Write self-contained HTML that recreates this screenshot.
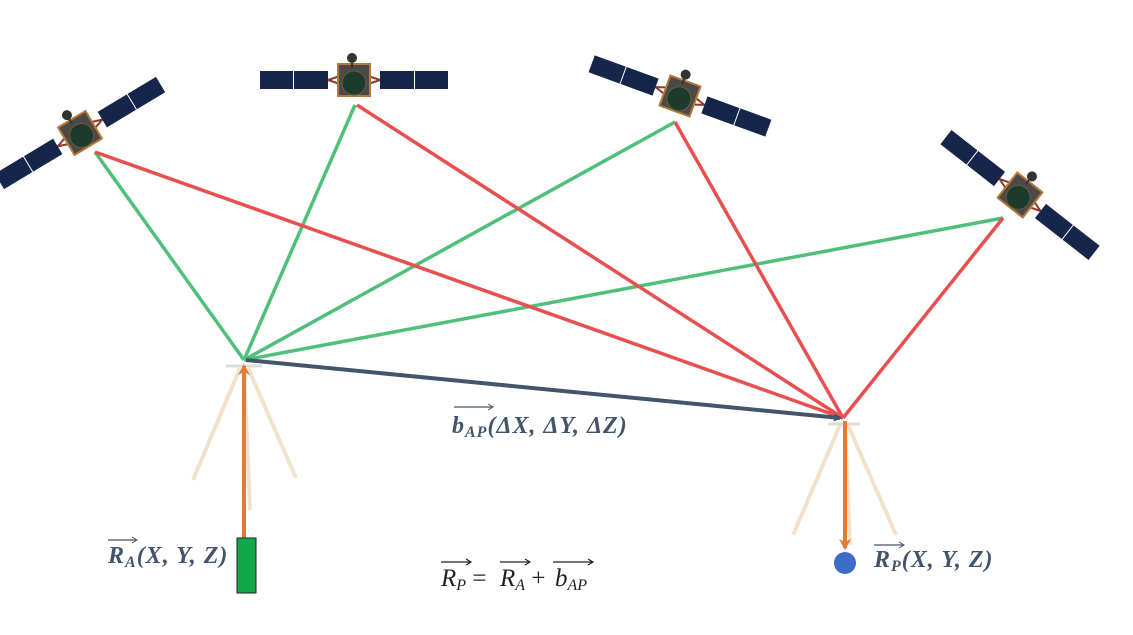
<!DOCTYPE html>
<html><head><meta charset="utf-8"><style>
html,body{margin:0;padding:0;background:#fff;width:1133px;height:635px;overflow:hidden}
svg{display:block}
text{font-family:"Liberation Serif",serif;font-weight:bold;font-style:italic;fill:#44546a}
</style></head><body>
<svg width="1133" height="635" viewBox="0 0 1133 635" xmlns="http://www.w3.org/2000/svg">
<defs>
<marker id="ah" markerWidth="8" markerHeight="8" refX="6" refY="4" orient="auto" markerUnits="userSpaceOnUse"><path d="M0,0 L8,4 L0,8 Z" fill="#44546a"/></marker>
<marker id="ao" markerWidth="12" markerHeight="12" refX="9" refY="6" orient="auto" markerUnits="userSpaceOnUse"><path d="M0,0 L11,6 L0,12 L3,6 Z" fill="#e07b39"/></marker>
<g id="sat">
<line x1="-26" y1="0" x2="-14" y2="-4" stroke="#8a3a2a" stroke-width="2"/>
<line x1="-26" y1="0" x2="-14" y2="4" stroke="#8a3a2a" stroke-width="2"/>
<line x1="26" y1="0" x2="14" y2="-4" stroke="#8a3a2a" stroke-width="2"/>
<line x1="26" y1="0" x2="14" y2="4" stroke="#8a3a2a" stroke-width="2"/>
<rect x="-94" y="-9" width="33" height="18" fill="#16254a"/>
<rect x="-60" y="-9" width="34" height="18" fill="#16254a"/>
<rect x="26" y="-9" width="34" height="18" fill="#16254a"/>
<rect x="61" y="-9" width="33" height="18" fill="#16254a"/>
<rect x="-16" y="-16" width="32" height="32" fill="#4b4a48" stroke="#b5773a" stroke-width="2"/>
<circle cx="0" cy="3" r="12" fill="#1d3b2c" stroke="#6b5a3a"/>
<circle cx="-2" cy="-22" r="5" fill="#333"/>
<line x1="-2" y1="-17" x2="-2" y2="-12" stroke="#333" stroke-width="2"/>
</g>
</defs>
<g stroke="#efdcc0" stroke-width="4" opacity="0.8" fill="none">
<line x1="240" y1="368" x2="193" y2="480"/><line x1="248" y1="368" x2="296" y2="478"/><line x1="244" y1="368" x2="250" y2="510"/>
<line x1="840" y1="425" x2="793" y2="535"/><line x1="848" y1="425" x2="896" y2="535"/><line x1="845" y1="425" x2="850" y2="545"/>
</g>
<line x1="226" y1="366" x2="262" y2="366" stroke="#ddd" stroke-width="3"/>
<line x1="828" y1="424" x2="860" y2="424" stroke="#ddd" stroke-width="3"/>
<use href="#sat" transform="translate(80,133) rotate(-31)"/>
<use href="#sat" transform="translate(354,80)"/>
<use href="#sat" transform="translate(680,96) rotate(20)"/>
<use href="#sat" transform="translate(1020,195) rotate(38)"/>
<g stroke="#4fc07a" stroke-width="3.5">
<line x1="95" y1="152" x2="244" y2="360"/>
<line x1="355" y1="105" x2="244" y2="360"/>
<line x1="675" y1="122" x2="244" y2="360"/>
<line x1="1003" y1="218" x2="244" y2="360"/>
</g>
<g stroke="#e85050" stroke-width="3.5">
<line x1="95" y1="152" x2="843" y2="418"/>
<line x1="357" y1="105" x2="843" y2="418"/>
<line x1="675" y1="122" x2="843" y2="418"/>
<line x1="1003" y1="218" x2="843" y2="418"/>
</g>
<line x1="246" y1="360" x2="840" y2="418" stroke="#44546a" stroke-width="4" marker-end="url(#ah)"/>
<line x1="244" y1="538" x2="244" y2="366" stroke="#e07b39" stroke-width="4" marker-end="url(#ao)"/>
<line x1="845" y1="421" x2="845" y2="548" stroke="#e07b39" stroke-width="4" marker-end="url(#ao)"/>
<rect x="237" y="538" width="19" height="55" fill="#10a84a" stroke="#222" stroke-width="1"/>
<circle cx="845" cy="563" r="11" fill="#3a6cc8"/>
<text x="452" y="433" font-size="24" letter-spacing="1">b<tspan font-size="16" dy="4">AP</tspan><tspan dy="-4">(ΔX, ΔY, ΔZ)</tspan></text>
<line x1="454" y1="407" x2="492" y2="407" stroke="#44546a" stroke-width="1.2"/><path d="M488,404 L493,407 L488,410" fill="none" stroke="#44546a"/>
<text x="108" y="563" font-size="24" letter-spacing="1">R<tspan font-size="16" dy="4">A</tspan><tspan dy="-4">(X, Y, Z)</tspan></text>
<line x1="108" y1="540" x2="136" y2="540" stroke="#44546a" stroke-width="1.2"/><path d="M132,537 L137,540 L132,543" fill="none" stroke="#44546a"/>
<text x="874" y="567" font-size="24" letter-spacing="1">R<tspan font-size="16" dy="4">P</tspan><tspan dy="-4">(X, Y, Z)</tspan></text>
<line x1="874" y1="545" x2="903" y2="545" stroke="#44546a" stroke-width="1.2"/><path d="M899,542 L904,545 L899,548" fill="none" stroke="#44546a"/>
<text x="441" y="586" font-size="25" style="fill:#222;font-weight:normal">R<tspan font-size="16" dy="4">P</tspan><tspan dy="-4" font-style="normal"> = </tspan><tspan x="500">R</tspan><tspan font-size="16" dy="4">A</tspan><tspan dy="-4" font-style="normal"> + </tspan><tspan x="555">b</tspan><tspan font-size="16" dy="4">AP</tspan></text>
<g stroke="#222" stroke-width="1.2" fill="none">
<line x1="441" y1="562" x2="470" y2="562"/><path d="M466,559 L471,562 L466,565"/>
<line x1="500" y1="562" x2="529" y2="562"/><path d="M525,559 L530,562 L525,565"/>
<line x1="553" y1="562" x2="592" y2="562"/><path d="M588,559 L593,562 L588,565"/>
</g>
</svg>
</body></html>
